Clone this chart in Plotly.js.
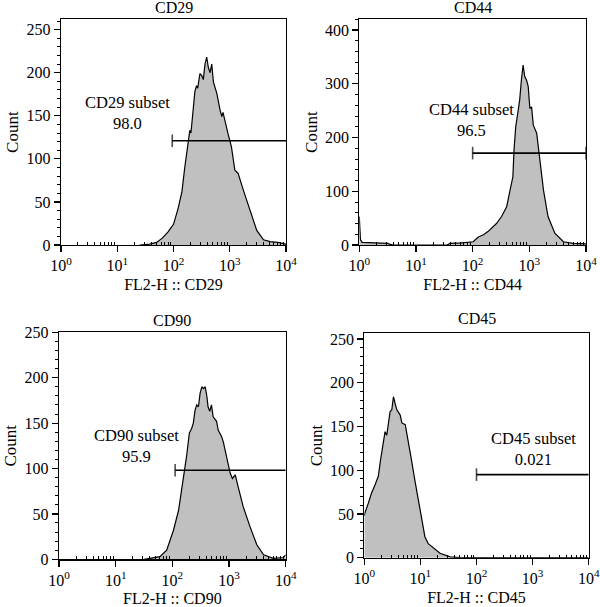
<!DOCTYPE html>
<html>
<head>
<meta charset="utf-8">
<script src="https://cdn.plot.ly/plotly-3.0.1.min.js"></script>
<style>html,body{margin:0;padding:0;background:#fff;}#chart{width:600px;height:607px;}</style>
</head>
<body>
<div id="chart"></div>
<script>
// ---- Data (x given as log10 of FL2-H) ----
const markers = ["CD29", "CD44", "CD90", "CD45"];
const subsetPct = ["98.0", "96.5", "95.9", "0.021"];

const cd29LogX = [1.40,1.58,1.70,1.80,1.90,2.00,2.08,2.15,2.20,2.26,2.29,2.31,2.35,2.38,2.41,2.43,2.47,2.50,2.53,2.56,2.59,2.62,2.65,2.68,2.71,2.77,2.83,2.86,2.88,2.93,2.97,3.03,3.09,3.12,3.15,3.24,3.36,3.48,3.60,3.72,3.85,3.95,4.00];
const cd29Count = [0,1,3,8,15,24,42,62,90,120,133,130,160,178,185,182,199,197,192,210,218,206,200,210,189,176,156,149,154,139,129,114,87,85,83,64,41,17,6,4,3,2,1];

const cd44LogX = [0.00,0.02,0.05,0.30,0.50,0.55,0.60,1.55,1.60,1.80,2.01,2.10,2.19,2.27,2.33,2.42,2.51,2.60,2.66,2.71,2.73,2.76,2.80,2.83,2.86,2.89,2.92,2.95,2.98,3.01,3.04,3.07,3.13,3.19,3.25,3.33,3.45,3.60,3.77,4.00];
const cd44Count = [53,10,5,4,3,1,0,0,3,4,6,15,19,25,31,40,53,71,102,127,177,220,248,270,307,335,313,307,295,254,257,223,208,158,102,53,22,6,3,2];

const cd90LogX = [1.50,1.61,1.78,1.90,2.02,2.11,2.19,2.25,2.30,2.34,2.37,2.40,2.43,2.46,2.49,2.52,2.55,2.58,2.61,2.63,2.66,2.69,2.72,2.78,2.81,2.87,2.90,2.96,3.02,3.06,3.11,3.16,3.25,3.37,3.49,3.61,3.78,3.96,4.00];
const cd90Count = [0,1,3,10,32,54,87,113,139,144,150,164,170,168,183,190,188,190,179,168,163,170,157,152,142,135,129,113,95,89,93,80,58,36,16,5,1,2,5];

const cd45LogX = [0.00,0.01,0.07,0.13,0.19,0.25,0.29,0.34,0.37,0.40,0.43,0.46,0.49,0.52,0.55,0.58,0.64,0.67,0.73,0.78,0.84,0.90,0.96,1.02,1.08,1.14,1.23,1.35,1.53,1.71,4.00];
const cd45Count = [48,51,62,74,83,93,112,135,144,140,157,167,169,184,176,169,163,154,152,135,112,89,66,47,24,16,11,5,1,0,0];

// gates: start value (FL2-H), end value, level (count)
const gateStart = [95, 100, 112, 100];
const gateEnd = [10000, 10000, 10000, 10000];
const gateLevel = [121, 171, 98, 95];
const gateRightCap = [false, true, false, false];

// label positions (log10 x, count)
const labelLogX = [1.19, 1.98, 1.37, 3.01];
const labelCount = [153, 232, 125, 124];

const yMax = [262, 420, 250, 256.5];
const yDtick = [50, 100, 50, 50];
const yMinor = [10, 20, 10, 10];

// ---- Layout geometry ----
const W = 600, H = 607;
const boxes = [
  {x0: 61, x1: 286, y0: 19.3, y1: 245},
  {x0: 359.3, x1: 586, y0: 19.3, y1: 245},
  {x0: 59, x1: 285.7, y0: 332.3, y1: 559.3},
  {x0: 364.3, x1: 588.7, y0: 333.3, y1: 557.7}
];
const titleY = [7, 7, 320, 318];

const FONT = "'Liberation Serif', 'Times New Roman', Times, serif";
const logsX = [cd29LogX, cd44LogX, cd90LogX, cd45LogX];
const counts = [cd29Count, cd44Count, cd90Count, cd45Count];

const minorVals = [];
for (let d = 0; d < 4; d++) for (let k = 2; k <= 9; k++) minorVals.push(k * Math.pow(10, d));

const traces = [];
const layout = {
  width: W, height: H,
  margin: {l: 0, r: 0, t: 0, b: 0},
  paper_bgcolor: "#fff", plot_bgcolor: "#fff",
  showlegend: false,
  font: {family: FONT, size: 16, color: "#000"},
  annotations: []
};

for (let i = 0; i < 4; i++) {
  const s = i === 0 ? "" : String(i + 1);
  const xa = "x" + s, ya = "y" + s;
  traces.push({
    type: "scatter", mode: "lines",
    x: logsX[i].map(v => Math.pow(10, v)), y: counts[i],
    xaxis: xa, yaxis: ya,
    fill: "tozeroy", fillcolor: "#c0c0c0",
    line: {color: "#000", width: 1.2},
    hoverinfo: "skip"
  });
  traces.push({
    type: "scatter", mode: "lines+markers",
    x: [gateStart[i], gateEnd[i]], y: [gateLevel[i], gateLevel[i]],
    xaxis: xa, yaxis: ya,
    line: {color: "#000", width: 1.6},
    marker: {symbol: "line-ns-open", size: [9, gateRightCap[i] ? 9 : 0], line: {color: "#000", width: 1.6}, color: "#000"},
    hoverinfo: "skip", cliponaxis: false
  });
  const b = boxes[i];
  layout["xaxis" + s] = {
    type: "log", range: [0, 4],
    domain: [b.x0 / W, b.x1 / W],
    anchor: ya,
    tickmode: "array",
    tickvals: [1, 10, 100, 1000, 10000],
    ticktext: ["10<sup>0</sup>", "10<sup>1</sup>", "10<sup>2</sup>", "10<sup>3</sup>", "10<sup>4</sup>"],
    ticks: "outside", ticklen: 6, tickwidth: 1.2, tickcolor: "#000",
    minor: {tickmode: "array", tickvals: minorVals, ticks: "inside", ticklen: 3, tickwidth: 1, tickcolor: "#000", showgrid: false},
    showline: true, linecolor: "#000", linewidth: 1.2, mirror: true,
    showgrid: false, zeroline: false,
    tickfont: {family: FONT, size: 16, color: "#000"},
    title: {text: "FL2-H :: " + markers[i], font: {family: FONT, size: 16, color: "#000"}, standoff: 5}
  };
  layout["yaxis" + s] = {
    range: [0, yMax[i]],
    domain: [1 - b.y1 / H, 1 - b.y0 / H],
    anchor: xa,
    dtick: yDtick[i], tick0: 0,
    ticks: "outside", ticklen: 6, tickwidth: 1.2, tickcolor: "#000",
    minor: {dtick: yMinor[i], ticks: "outside", ticklen: 3, tickwidth: 1, tickcolor: "#000", showgrid: false},
    showline: true, linecolor: "#000", linewidth: 1.2, mirror: true,
    showgrid: false, zeroline: false,
    tickfont: {family: FONT, size: 16, color: "#000"},
    title: {text: "Count", font: {family: FONT, size: 17, color: "#000"}, standoff: 3}
  };
  layout.annotations.push({
    xref: "paper", yref: "paper",
    x: (b.x0 + b.x1) / 2 / W, y: 1 - titleY[i] / H,
    text: markers[i], showarrow: false,
    xanchor: "center", yanchor: "middle",
    font: {family: FONT, size: 16, color: "#000"}
  });
  layout.annotations.push({
    xref: xa, yref: ya,
    x: labelLogX[i], y: labelCount[i],
    text: markers[i] + " subset<br>" + subsetPct[i], showarrow: false,
    xanchor: "center", yanchor: "middle",
    font: {family: FONT, size: 16.5, color: "#000"}
  });
}

Plotly.newPlot("chart", traces, layout, {staticPlot: true, displayModeBar: false});
</script>
</body>
</html>
